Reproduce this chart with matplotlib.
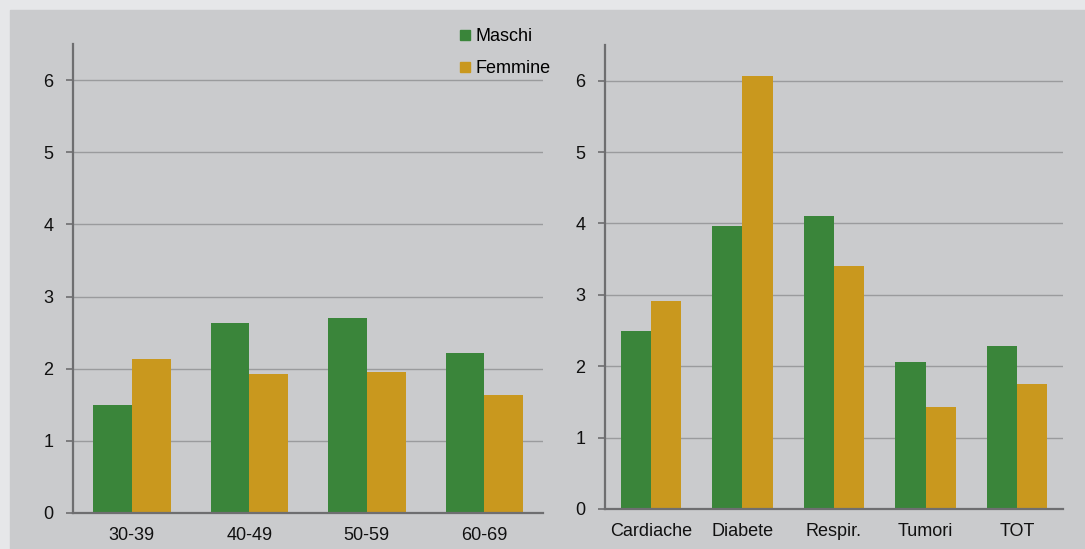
"""Rischio relativo per classe di età e per causa, Maschi vs Femmine."""

import matplotlib

matplotlib.use("Agg")
import matplotlib.pyplot as plt
import numpy as np
from matplotlib.lines import Line2D
from matplotlib.patches import Rectangle

plt.rcParams["font.family"] = ["Liberation Sans", "DejaVu Sans"]

AGE_LABELS = ["30-39", "40-49", "50-59", "60-69"]
AGE_MASCHI = [1.50, 2.63, 2.71, 2.22]
AGE_FEMMINE = [2.13, 1.93, 1.95, 1.63]

CAUSE_LABELS = ["Cardiache", "Diabete", "Respir.", "Tumori", "TOT"]
CAUSE_MASCHI = [2.49, 3.96, 4.11, 2.06, 2.28]
CAUSE_FEMMINE = [2.91, 6.07, 3.41, 1.43, 1.75]

GREEN = "#3a853a"
ORANGE = "#c9981e"
PANEL = "#cacbcd"
OUTER = "#e6e7e9"
GRID = "#9a9b9d"
SPINE = "#6e6e70"
FS = 13


def draw_panel(ax, labels, maschi, femmine):
    x = np.arange(len(labels))
    w = 0.33
    ax.bar(x - w / 2, maschi, width=w, color=GREEN, zorder=3)
    ax.bar(x + w / 2, femmine, width=w, color=ORANGE, zorder=3)
    ax.set_xlim(-0.5, len(labels) - 0.5)
    ax.set_ylim(0, 6.5)
    ax.set_yticks(range(0, 7))
    ax.set_xticks(x)
    ax.set_xticklabels(labels)
    ax.set_facecolor("none")
    ax.grid(axis="y", color=GRID, linewidth=1.0, zorder=0)
    ax.spines[["top", "right"]].set_visible(False)
    for side in ("left", "bottom"):
        ax.spines[side].set_color(SPINE)
        ax.spines[side].set_linewidth(1.6)
        ax.spines[side].set_zorder(4)
    ax.tick_params(axis="y", length=5, width=1.2, color=SPINE, pad=9,
                   labelsize=FS, labelcolor="#111111")
    ax.tick_params(axis="x", length=0, pad=10, labelsize=FS,
                   labelcolor="#111111")


fig = plt.figure(figsize=(10.85, 5.49), dpi=100, facecolor=OUTER)
fig.patches.append(Rectangle((10 / 1085, 0), 1 - 10 / 1085, 1 - 10 / 549,
                             transform=fig.transFigure, color=PANEL,
                             zorder=-5))

ax1 = fig.add_axes([0.0673, 0.0656, 0.4332, 0.854])
ax2 = fig.add_axes([0.5576, 0.0729, 0.4221, 0.845])
draw_panel(ax1, AGE_LABELS, AGE_MASCHI, AGE_FEMMINE)
draw_panel(ax2, CAUSE_LABELS, CAUSE_MASCHI, CAUSE_FEMMINE)

handles = [
    Line2D([], [], marker="s", linestyle="none", color=GREEN, markersize=7.5),
    Line2D([], [], marker="s", linestyle="none", color=ORANGE, markersize=7.5),
]
fig.legend(handles, ["Maschi", "Femmine"], loc="upper left",
           bbox_to_anchor=(0.417, 0.962), frameon=False, fontsize=FS,
           handlelength=0.6, handletextpad=0.25, labelspacing=0.85,
           borderaxespad=0)

fig.savefig("out.png", dpi=100, facecolor=OUTER)
